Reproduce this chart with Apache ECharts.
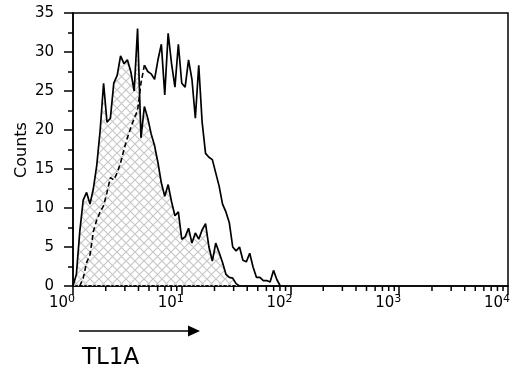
<!DOCTYPE html>
<html lang="en">
<head>
<meta charset="UTF-8">
<title>TL1A histogram</title>
<style>
  html, body { margin: 0; padding: 0; background: #fff; }
  #main { width: 518px; height: 374px; }
</style>
</head>
<body>
<div id="main"></div>
<script src="https://cdn.jsdelivr.net/npm/echarts@6/dist/echarts.min.js"></script>
<script>
// histogram channels: 32 per decade, channel 0 = 10^0
var chPerDecade = 32;

// hatched histogram (control), starts at channel 0
var controlStart = 0;
var controlCounts = [0, 1.5, 7, 11, 12, 10.5, 12.5, 15.5, 20, 26, 21, 21.5, 26, 27, 29.5, 28.5,
  29, 27.5, 25, 33, 19, 23, 21.5, 19.5, 18, 15.8, 13.2, 11.5, 13, 10.8, 9, 9.5,
  6, 6.3, 7.4, 5.5, 6.8, 6, 7.2, 8, 5, 3.2, 5.5, 4.3, 3, 1.5, 1.1, 1, 0.3, 0];

// open histogram (TL1A), starts at channel 2
var tl1aStart = 2;
var tl1aCounts = [0, 1, 3, 4, 7, 8.5, 9.5, 10.3, 12, 13.9, 13.6, 14.5, 15.8, 17.5, 19, 20.3,
  21.5, 22.5, 26, 28.3, 27.5, 27.2, 26.5, 29, 31, 24.5, 32.4, 28.5, 25.5, 31, 26, 25.5,
  29, 26.5, 21.5, 28.3, 21, 17, 16.5, 16.2, 14.5, 12.8, 10.5, 9.5, 8.1, 5, 4.5, 5,
  3.3, 3.1, 4.2, 2.4, 1.1, 1.1, 0.7, 0.7, 0.5, 2, 0.8, 0];
// points of the TL1A curve that lie over the hatched area
var tl1aHidden = 19;

var yTicks = [0, 5, 10, 15, 20, 25, 30, 35];
var decades = [0, 1, 2, 3, 4];

function toPoints(start, counts) {
  return counts.map(function (c, i) {
    return [Math.pow(10, (start + i) / chPerDecade), c];
  });
}

var tl1aPoints = toPoints(tl1aStart, tl1aCounts);

// log minor ticks 2..9 in each decade
var minorTicks = [];
for (var k = 0; k < 4; k++) {
  for (var m = 2; m <= 9; m++) minorTicks.push([m * Math.pow(10, k), 0]);
}

// diagonal cross hatch fill
var hatch = document.createElement('canvas');
hatch.width = 9;
hatch.height = 9;
var ctx = hatch.getContext('2d');
ctx.strokeStyle = '#c8c8c8';
ctx.lineWidth = 1.2;
ctx.beginPath();
ctx.moveTo(-1, -1); ctx.lineTo(10, 10);
ctx.moveTo(10, -1); ctx.lineTo(-1, 10);
ctx.stroke();

var font = 'DejaVu Sans';
var chart = echarts.init(document.getElementById('main'));

chart.setOption({
  animation: false,
  backgroundColor: '#fff',
  grid: {
    left: 73, right: 10, top: 13, bottom: 88,
    show: true, borderColor: '#000', borderWidth: 1.5,
    outerBoundsMode: 'none'
  },
  xAxis: {
    type: 'log',
    logBase: 10,
    min: 1,
    max: 10000,
    axisLine: { lineStyle: { color: '#000', width: 1.5 } },
    axisTick: { length: 9, lineStyle: { color: '#000', width: 1.5 } },
    splitLine: { show: false },
    axisLabel: {
      margin: 8,
      color: '#000',
      fontFamily: font,
      fontSize: 15,
      padding: [0, 22, 0, 0],
      formatter: function (v) {
        var e = Math.round(Math.log10(v));
        if (decades.indexOf(e) < 0) return '';
        return '10{sup|' + e + '}';
      },
      rich: {
        sup: { fontSize: 11, fontFamily: font, color: '#000', verticalAlign: 'top', padding: [0, 0, 7, 0] }
      }
    }
  },
  yAxis: {
    type: 'value',
    min: 0,
    max: 35,
    interval: 5,
    axisLine: { show: true, lineStyle: { color: '#000', width: 1.5 } },
    axisTick: { length: 9, lineStyle: { color: '#000', width: 1.5 } },
    minorTick: { show: true, splitNumber: 2, length: 5, lineStyle: { color: '#000', width: 1.5 } },
    splitLine: { show: false },
    axisLabel: {
      margin: 19,
      color: '#000',
      fontFamily: font,
      fontSize: 15,
      formatter: function (v) { return yTicks.indexOf(v) >= 0 ? String(v) : ''; }
    }
  },
  graphic: [
    {
      type: 'text', x: 22, y: 150, rotation: Math.PI / 2,
      style: { text: 'Counts', fontFamily: font, fontSize: 16, fill: '#000', align: 'center', verticalAlign: 'middle' }
    },
    {
      type: 'line', shape: { x1: 79, y1: 331, x2: 190, y2: 331 },
      style: { stroke: '#000', lineWidth: 1.6 }
    },
    {
      type: 'polygon', shape: { points: [[200, 331], [188, 325.5], [188, 336.5]] },
      style: { fill: '#000' }
    },
    {
      type: 'text', x: 82, y: 358,
      style: { text: 'TL1A', fontFamily: font, fontSize: 23, fill: '#000', align: 'left', verticalAlign: 'middle' }
    }
  ],
  series: [
    {
      name: 'control',
      type: 'line',
      symbol: 'none',
      data: toPoints(controlStart, controlCounts),
      lineStyle: { color: '#000', width: 1.7 },
      areaStyle: { color: { image: hatch, repeat: 'repeat' }, opacity: 1 },
      z: 2
    },
    {
      name: 'TL1A under hatch',
      type: 'line',
      symbol: 'none',
      data: tl1aPoints.slice(0, tl1aHidden + 1),
      lineStyle: { color: '#000', width: 1.6, type: [5, 3] },
      z: 3
    },
    {
      name: 'TL1A',
      type: 'line',
      symbol: 'none',
      data: tl1aPoints.slice(tl1aHidden),
      lineStyle: { color: '#000', width: 1.7 },
      z: 3
    },
    {
      name: 'minor ticks',
      type: 'custom',
      silent: true,
      clip: false,
      data: minorTicks,
      renderItem: function (params, api) {
        var p = api.coord([api.value(0), 0]);
        return {
          type: 'line',
          shape: { x1: p[0], y1: p[1], x2: p[0], y2: p[1] + 5 },
          style: { stroke: '#000', lineWidth: 1.5 }
        };
      },
      z: 4
    }
  ]
});
</script>
</body>
</html>
